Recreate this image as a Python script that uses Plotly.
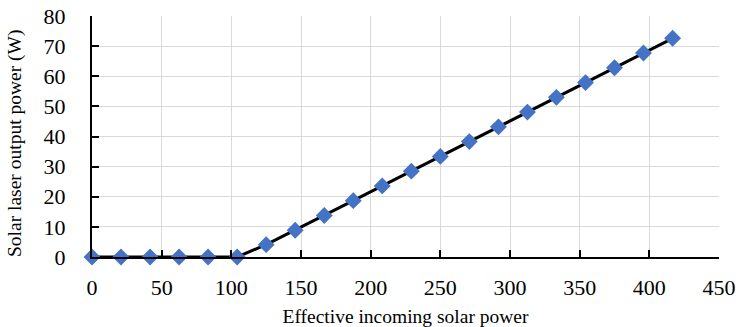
import plotly.graph_objects as go

incoming_power = [0, 20.8, 41.7, 62.5, 83.3, 104.2, 125.0, 145.8, 166.7, 187.5, 208.3,
                  229.2, 250.0, 270.8, 291.7, 312.5, 333.3, 354.2, 375.0, 395.8, 416.7]
laser_power = [0, 0, 0, 0, 0, 0, 4.1, 8.9, 13.8, 18.7, 23.6,
               28.5, 33.4, 38.3, 43.2, 48.1, 53.0, 57.9, 62.8, 67.7, 72.6]

x_ticks = [0, 50, 100, 150, 200, 250, 300, 350, 400, 450]
y_ticks = [0, 10, 20, 30, 40, 50, 60, 70, 80]

x_title = "Effective incoming solar power"
y_title = "Solar laser output power (W)"

font_family = "Liberation Serif"

W, H = 743, 327
ML, MR, MT, MB = 92, 24, 16, 70
plot_w, plot_h = W - ML - MR, H - MT - MB

fig = go.Figure()
fig.add_trace(go.Scatter(
    x=incoming_power, y=laser_power, mode="lines+markers",
    line=dict(color="black", width=3),
    marker=dict(symbol="diamond", size=13, color="#4472C4"),
    cliponaxis=False,
    showlegend=False,
))

fig.update_layout(
    width=W, height=H,
    margin=dict(l=ML, r=MR, t=MT, b=MB),
    paper_bgcolor="white", plot_bgcolor="white",
    font=dict(family=font_family, size=22, color="black"),
)

for upd, rng, vals, stand in (
    (fig.update_xaxes, [0, 450], x_ticks, 10),
    (fig.update_yaxes, [0, 80], y_ticks, 20),
):
    upd(
        range=rng, tickmode="array", tickvals=vals,
        showline=True, linecolor="black", linewidth=2,
        ticks="inside", ticklen=7, tickwidth=2, tickcolor="black",
        showgrid=True, gridcolor="#d9d9d9", gridwidth=1,
        zeroline=False, automargin=False,
        ticklabelstandoff=stand,
        tickfont_family=font_family, tickfont_size=22, tickfont_color="black",
    )

fig.update_xaxes(title_text=x_title, title_font_family=font_family,
                 title_font_size=19.5, title_font_color="black", title_standoff=12)

# y-axis title as a rotated annotation (sits slightly below the plot centre, as in the original)
fig.add_annotation(
    text=y_title, textangle=-90, showarrow=False,
    xref="paper", yref="paper",
    x=(15 - ML) / plot_w, y=(H - MB - 144) / plot_h,
    xanchor="center", yanchor="middle",
    font=dict(family=font_family, size=19.5, color="black"),
)

fig.write_html("out.html")
